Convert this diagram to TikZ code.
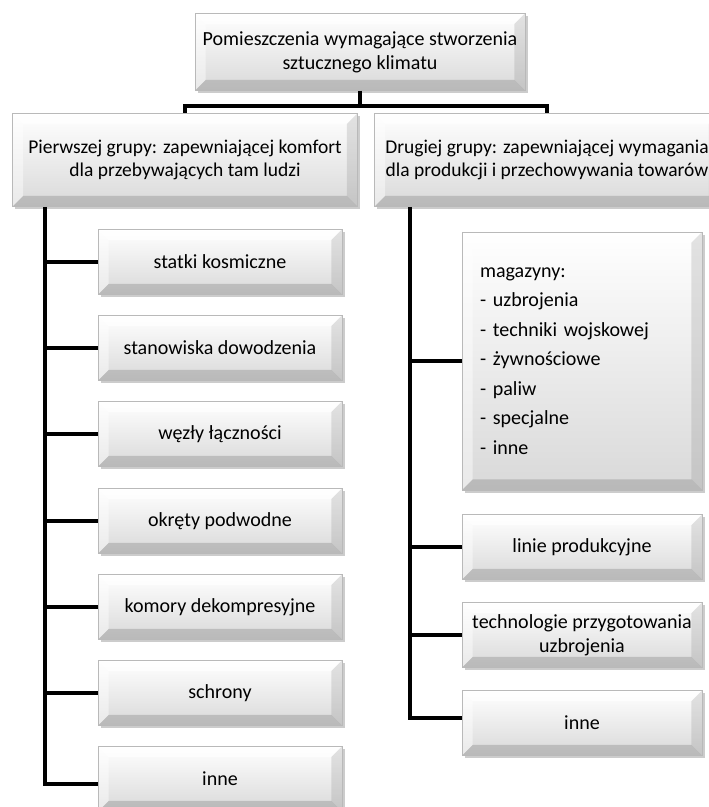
\documentclass[tikz,border=0pt]{standalone}
\usepackage{fontspec}
\setmainfont{Carlito}
\usetikzlibrary{positioning,shadows,calc}
\tikzset{
  bevel/.style={path picture={
    \fill[white,opacity=0.75] (path picture bounding box.north west) -- (path picture bounding box.north east)
      -- ([shift={(-6pt,-6pt)}]path picture bounding box.north east) -- ([shift={(6pt,-6pt)}]path picture bounding box.north west) -- cycle;
    \fill[white,opacity=0.45] (path picture bounding box.north west) -- (path picture bounding box.south west)
      -- ([shift={(6pt,6pt)}]path picture bounding box.south west) -- ([shift={(6pt,-6pt)}]path picture bounding box.north west) -- cycle;
    \fill[gray,opacity=0.35] (path picture bounding box.south west) -- (path picture bounding box.south east)
      -- ([shift={(-6pt,6pt)}]path picture bounding box.south east) -- ([shift={(6pt,6pt)}]path picture bounding box.south west) -- cycle;
    \fill[gray,opacity=0.22] (path picture bounding box.north east) -- (path picture bounding box.south east)
      -- ([shift={(-6pt,6pt)}]path picture bounding box.south east) -- ([shift={(-6pt,-6pt)}]path picture bounding box.north east) -- cycle;
  }}
}
\begin{document}
\begin{tikzpicture}[x=0.02cm,y=-0.02cm,
  box/.style={draw=gray!55,top color=white,bottom color=gray!30,bevel,
    drop shadow={opacity=0.4,shadow xshift=1.5pt,shadow yshift=-1.5pt},
    font=\fontsize{11.4}{13.6}\selectfont,align=center,inner sep=4pt},
  group/.style={box,minimum width=6.9cm,minimum height=1.86cm,font=\fontsize{11.1}{13.4}\selectfont},
  leaf/.style={box,minimum width=4.88cm,minimum height=1.3cm},
  conn/.style={line width=2.2pt}]
  \useasboundingbox (0,0) rectangle (709,807);

  \node[box,minimum width=6.6cm,minimum height=1.54cm] (top) at (360,52) {Pomieszczenia wymagające stworzenia\\sztucznego klimatu};
  \node[group] (g1) at (185,160) {Pierwszej grupy: zapewniającej komfort\\dla przebywających tam ludzi};
  \node[group] (g2) at (547,160) {Drugiej grupy: zapewniającej wymagania\\dla produkcji i przechowywania towarów};

  \node[leaf] (s1) at (220,262) {statki kosmiczne};
  \node[leaf] (s2) at (220,348) {stanowiska dowodzenia};
  \node[leaf] (s3) at (220,434) {węzły łączności};
  \node[leaf] (s4) at (220,521) {okręty podwodne};
  \node[leaf] (s5) at (220,607) {komory dekompresyjne};
  \node[leaf] (s6) at (220,693) {schrony};
  \node[leaf] (s7) at (220,779) {inne};

  \node[box,minimum width=4.8cm,minimum height=5.16cm,text width=4.08cm,align=left,
    font=\fontsize{11.4}{16.8}\selectfont] (m1) at (582,361)
    {magazyny:\\- uzbrojenia\\- techniki wojskowej\\- żywnościowe\\- paliw\\- specjalne\\- inne};
  \node[leaf,minimum width=4.8cm] (m2) at (582,547) {linie produkcyjne};
  \node[leaf,minimum width=4.8cm] (m3) at (582,635) {technologie przygotowania\\uzbrojenia};
  \node[leaf,minimum width=4.8cm] (m4) at (582,723) {inne};

  \coordinate (t1) at ($(g1.south west)+(33,0)$);
  \coordinate (t2) at ($(g2.south west)+(36,0)$);

  \draw[conn] (top.south) -- ++(0,15) -| (g1.north);
  \draw[conn] (top.south) -- ++(0,15) -| (g2.north);
  \draw[conn] (t1) |- (s1.west) (t1) |- (s2.west) (t1) |- (s3.west) (t1) |- (s4.west)
    (t1) |- (s5.west) (t1) |- (s6.west) (t1) |- ([yshift=-3pt]s7.west);
  \draw[conn] (t2) |- (m1.west) (t2) |- (m2.west) (t2) |- (m3.west) (t2) |- ([yshift=3pt]m4.west);
\end{tikzpicture}
\end{document}
